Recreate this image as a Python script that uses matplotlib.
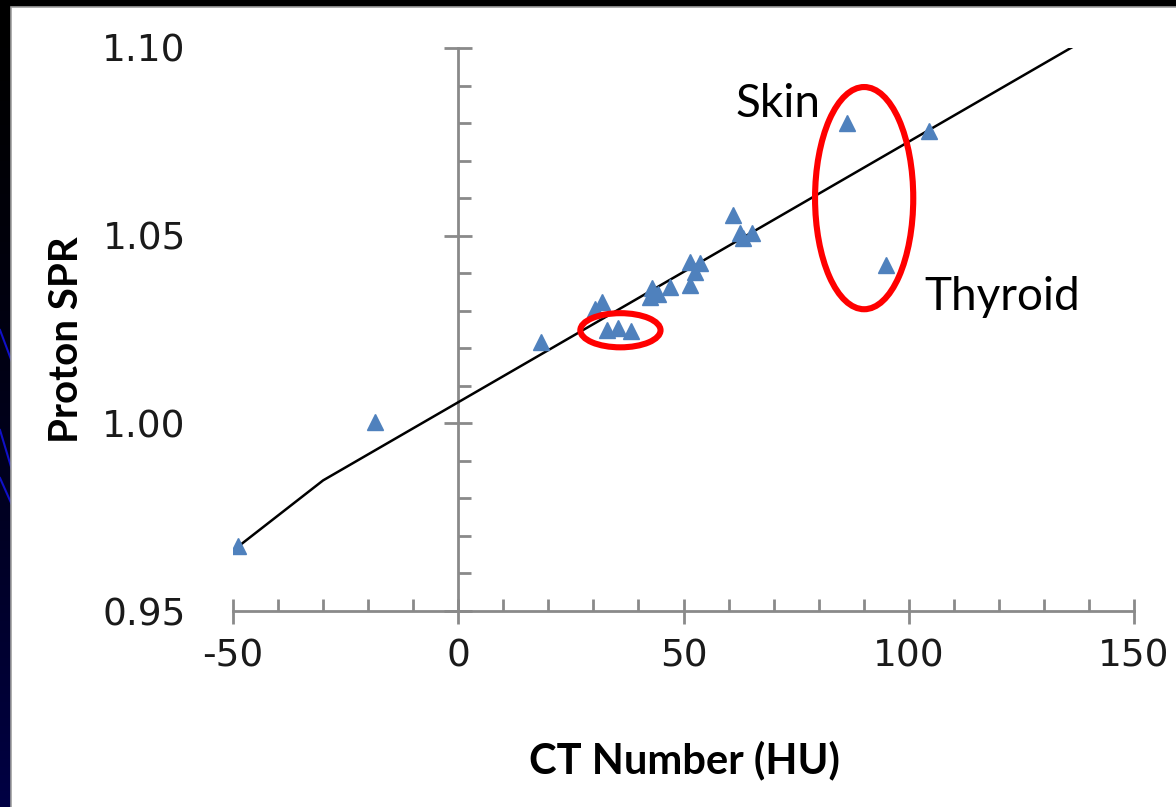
import numpy as np
import matplotlib.pyplot as plt
from matplotlib.patches import Ellipse, Rectangle

# measured tissues: CT number (HU) vs proton stopping power ratio
ct_number = [-48.8, -18.4, 18.4, 30.4, 31.9, 33.0, 35.5, 38.3, 42.6, 43.0,
             44.4, 47.1, 51.5, 51.5, 52.6, 53.7, 61.0, 62.6, 63.3, 65.3,
             86.3, 95.0, 104.5]
proton_spr = [0.9672, 1.0003, 1.0216, 1.0304, 1.0322, 1.0248, 1.0253, 1.0245,
              1.0336, 1.0360, 1.0344, 1.0363, 1.0429, 1.0368, 1.0403, 1.0427,
              1.0555, 1.0507, 1.0493, 1.0507, 1.0800, 1.0421, 1.0779]

# calibration curve (two linear segments)
fit_hu = [-48.5, -30.0, 140.0]
fit_spr = [0.9675, 0.9848, 1.1028]

xticks = [-50, 0, 50, 100, 150]
yticks = [0.95, 1.00, 1.05, 1.10]

W, H = 1176, 807
fig = plt.figure(figsize=(W / 100, H / 100), dpi=100)
fig.patch.set_facecolor('black')

# slide background: dark gradient with a few blue swooshes on the left
bg = fig.add_axes([0, 0, 1, 1])
bg.set_zorder(-2)
grad = np.zeros((200, 1, 3))
grad[:, 0, 2] = np.linspace(0.0, 0.33, 200) ** 1.5 * 1.4
bg.imshow(grad, aspect='auto', extent=[0, W, H, 0])
for y0, y1 in [(330, 362), (430, 470), (478, 505)]:
    bg.plot([0, 12], [y0, y1], color='#1010c8', lw=1.5)
bg.set_xlim(0, W)
bg.set_ylim(H, 0)
bg.axis('off')

# white chart panel with thin grey edge
panel = Rectangle((11 / W, -0.01), 1, 1.01 - 7 / H, transform=fig.transFigure,
                  facecolor='white', edgecolor='#a0a0a0', lw=1.2, zorder=-1)
fig.patches.append(panel)

ax = fig.add_axes([233 / W, 1 - 611 / H, (1134 - 233) / W, (611 - 48) / H])
ax.patch.set_alpha(0)
ax.set_xlim(-50, 150)
ax.set_ylim(0.95, 1.10)

axis_grey = '#8a8a8a'
for s in ['top', 'right', 'left']:
    ax.spines[s].set_visible(False)
ax.spines['bottom'].set_color(axis_grey)
ax.spines['bottom'].set_linewidth(2)

ax.set_xticks(xticks)
ax.set_xticks(np.arange(-50, 151, 10), minor=True)
ax.set_xticklabels([str(t) for t in xticks])
ax.tick_params(axis='x', which='major', direction='inout', length=18, width=2,
               color=axis_grey, labelsize=27, pad=11, labelcolor='#1a1a1a')
ax.tick_params(axis='x', which='minor', direction='in', length=9, width=2,
               color=axis_grey)

# y labels sit at the left; the drawn y axis crosses at HU = 0
ax.set_yticks(yticks)
ax.set_yticklabels(['%.2f' % t for t in yticks])
ax.tick_params(axis='y', which='major', length=0, labelsize=27, pad=34,
               labelcolor='#1a1a1a')

yax = ax.secondary_yaxis(0.25)
yax.spines['left'].set_color(axis_grey)
yax.spines['left'].set_linewidth(2)
yax.set_yticks(yticks)
yax.set_yticks(np.arange(0.95, 1.1001, 0.01), minor=True)
yax.set_yticklabels([])
yax.tick_params(axis='y', which='major', direction='inout', length=20, width=2,
                color=axis_grey)
yax.tick_params(axis='y', which='minor', direction='in', length=9, width=2,
                color=axis_grey)
yax.yaxis.set_tick_params(which='minor', labelleft=False)

ax.plot(fit_hu, fit_spr, color='black', lw=1.8, zorder=3, clip_on=True)
ax.plot(ct_number, proton_spr, linestyle='none', marker='^', ms=11,
        color='#4f81bd', zorder=4)

ax.add_patch(Ellipse((36.0, 1.0248), 17.8, 0.0091, fill=False,
                     edgecolor='#ff0000', lw=4.4, zorder=5))
ax.add_patch(Ellipse((90.1, 1.0600), 21.8, 0.0592, fill=False,
                     edgecolor='#ff0000', lw=4.4, zorder=5))

ax.text(61.5, 1.0816, 'Skin', fontsize=33, family='Lato', ha='left', va='baseline')
ax.text(103.5, 1.0301, 'Thyroid', fontsize=33, family='Lato', ha='left', va='baseline')

fig.text(67 / W, 1 - 340 / H, 'Proton SPR', rotation=90, fontsize=29,
         fontweight='bold', family='Lato', ha='center', va='center')
fig.text(684 / W, 1 - 760 / H, 'CT Number (HU)', fontsize=30,
         fontweight='bold', family='Lato', ha='center', va='center')

fig.savefig('out.png', dpi=100, facecolor=fig.get_facecolor())
